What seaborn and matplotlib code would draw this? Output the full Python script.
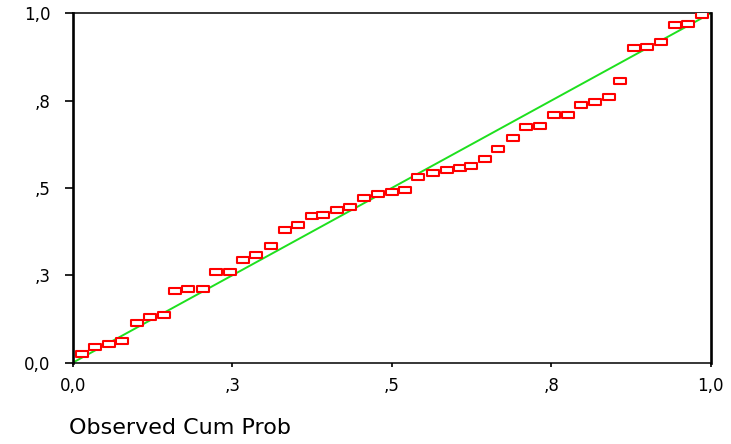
import numpy as np
import pandas as pd
import matplotlib
matplotlib.use("Agg")
import matplotlib.pyplot as plt
import seaborn as sns
from matplotlib.path import Path

# observed vs expected cumulative probabilities
observed = [0.014, 0.035, 0.057, 0.077, 0.100, 0.121, 0.143, 0.160, 0.181, 0.204,
            0.225, 0.246, 0.267, 0.288, 0.311, 0.332, 0.353, 0.375, 0.393, 0.414,
            0.435, 0.457, 0.478, 0.500, 0.521, 0.542, 0.564, 0.586, 0.607, 0.625,
            0.646, 0.667, 0.690, 0.711, 0.732, 0.754, 0.776, 0.797, 0.819, 0.841,
            0.858, 0.880, 0.900, 0.922, 0.944, 0.964, 0.986]
expected = [0.025, 0.045, 0.054, 0.062, 0.114, 0.131, 0.137, 0.204, 0.212, 0.212,
            0.260, 0.260, 0.295, 0.307, 0.333, 0.381, 0.393, 0.419, 0.424, 0.436,
            0.445, 0.471, 0.484, 0.488, 0.494, 0.531, 0.544, 0.552, 0.558, 0.562,
            0.583, 0.613, 0.643, 0.674, 0.677, 0.708, 0.708, 0.738, 0.745, 0.760,
            0.807, 0.901, 0.905, 0.918, 0.966, 0.970, 0.996]
diag_x = [0.0, 1.0]
diag_y = [0.0, 1.0]
tick_vals = [0.0, 0.25, 0.5, 0.75, 1.0]
tick_labels = ["0,0", ",3", ",5", ",8", "1,0"]

df = pd.DataFrame({"observed": observed, "expected": expected})

sns.set_style("white")
plt.rcParams["font.family"] = ["DejaVu Sans"]

fig = plt.figure(figsize=(7.31, 4.44), dpi=100)
ax = fig.add_axes([0.0995, 0.1831, 0.8727, 0.7869])

ax.plot(diag_x, diag_y, color="#1ee01e", lw=1.4, zorder=2)

box = Path([(-1, -0.5), (1, -0.5), (1, 0.5), (-1, 0.5), (-1, -0.5)],
           [Path.MOVETO, Path.LINETO, Path.LINETO, Path.LINETO, Path.CLOSEPOLY])
sns.scatterplot(data=df, x="observed", y="expected", ax=ax, marker=box,
                s=66, facecolor="white", edgecolor="#ff0000", linewidth=1.5,
                zorder=3, legend=False)

ax.set_xlim(0, 1)
ax.set_ylim(0, 1)
ax.set_xticks(tick_vals)
ax.set_xticklabels(tick_labels)
ax.set_yticks(tick_vals)
ax.set_yticklabels(tick_labels)
ax.set_xlabel("")
ax.set_ylabel("")
ax.tick_params(axis="x", direction="out", length=3, width=1.2, pad=7,
               labelsize=12, color="black", labelcolor="black", bottom=True)
ax.tick_params(axis="y", direction="out", length=6, width=1.2, pad=10,
               labelsize=12, color="black", labelcolor="black", left=True)

for side in ["left", "right"]:
    ax.spines[side].set_linewidth(1.9)
    ax.spines[side].set_color("black")
for side in ["top", "bottom"]:
    ax.spines[side].set_linewidth(1.1)
    ax.spines[side].set_color("black")

fig.text(69 / 731, 1 - 428 / 444, "Observed Cum Prob", fontsize=16,
         ha="left", va="center", color="black")

fig.savefig("out.png", dpi=100, facecolor="white")
